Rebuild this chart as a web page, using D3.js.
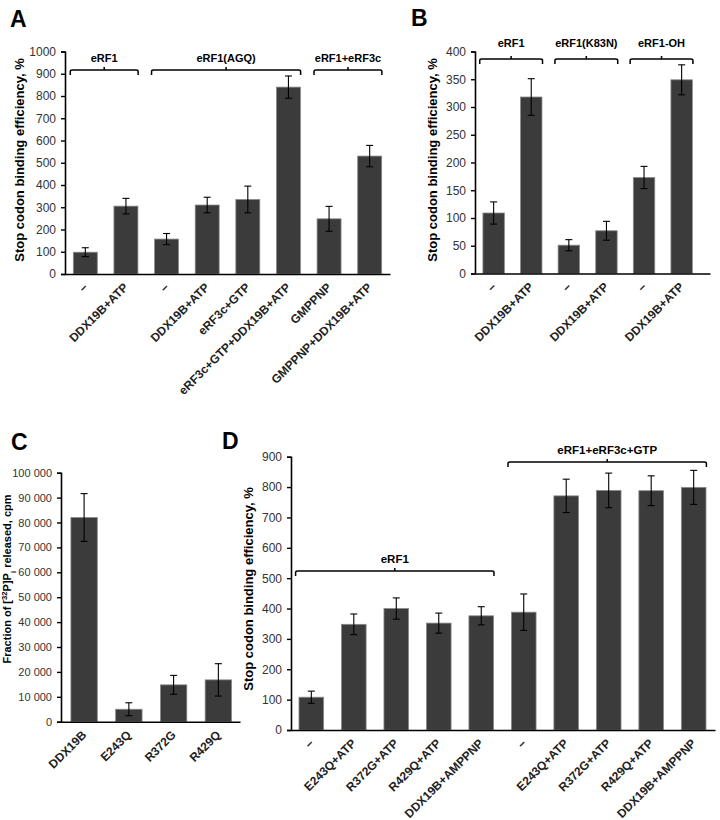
<!DOCTYPE html>
<html>
<head>
<meta charset="utf-8">
<script src="https://cdn.jsdelivr.net/npm/d3@7"></script>
<style>
  body { margin: 0; background: #fff; }
  svg text { font-family: "Liberation Sans", Arial, sans-serif; }
</style>
</head>
<body>
<script>
// ---- panel A
const catsA = ["–", "DDX19B+ATP", "–", "DDX19B+ATP", "eRF3c+GTP", "eRF3c+GTP+DDX19B+ATP", "GMPPNP", "GMPPNP+DDX19B+ATP"];
const valsA = [98, 305, 157, 310, 335, 840, 248, 530];
const errsA = [20, 35, 25, 35, 60, 50, 56, 48];
const groupsA = [["eRF1", 0, 1], ["eRF1(AGQ)", 2, 5], ["eRF1+eRF3c", 6, 7]];

// ---- panel B
const catsB = ["–", "DDX19B+ATP", "–", "DDX19B+ATP", "–", "DDX19B+ATP"];
const valsB = [109, 318, 51, 77, 173, 349];
const errsB = [20, 33, 10, 17, 20, 27];
const groupsB = [["eRF1", 0, 1], ["eRF1(K83N)", 2, 3], ["eRF1-OH", 4, 5]];

// ---- panel C
const catsC = ["DDX19B", "E243Q", "R372G", "R429Q"];
const valsC = [82000, 5000, 14800, 16800];
const errsC = [9600, 2600, 3800, 6500];

// ---- panel D
const catsD = ["–", "E243Q+ATP", "R372G+ATP", "R429Q+ATP", "DDX19B+AMPPNP",
               "–", "E243Q+ATP", "R372G+ATP", "R429Q+ATP", "DDX19B+AMPPNP"];
const valsD = [108, 348, 400, 352, 376, 388, 771, 789, 788, 799];
const errsD = [20, 34, 35, 33, 30, 60, 55, 57, 49, 56];
const groupsD = [["eRF1", 0, 4], ["eRF1+eRF3c+GTP", 5, 9]];

const yTitle = "Stop codon binding efficiency, %";
const spaceFmt = d3.formatLocale({decimal: ".", thousands: " ", grouping: [3], currency: ["", ""]}).format(",");

const svg = d3.select("body").append("svg")
    .attr("width", 720)
    .attr("height", 820);

function drawPanel(p) {
    const g = svg.append("g");

    const x = d3.scaleBand()
        .domain(d3.range(p.cats.length))
        .range([p.x0, p.x1])
        .paddingInner(p.padIn)
        .paddingOuter(p.padOut)
        .align(p.align);
    const y = d3.scaleLinear().domain([0, p.yMax]).range([p.y0, p.y1]);
    const bw = x.bandwidth();
    const cx = i => x(i) + bw / 2;

    // bars
    g.selectAll(".bar").data(p.vals).enter().append("rect")
        .attr("class", "bar")
        .attr("x", (d, i) => x(i))
        .attr("y", d => y(d))
        .attr("width", bw)
        .attr("height", d => y(0) - y(d))
        .attr("fill", "#3b3b3b")
        .attr("stroke", "#8a8a8a")
        .attr("stroke-width", 0.8);

    // error bars
    const eb = g.selectAll(".err").data(p.vals).enter().append("g").attr("class", "err")
        .attr("stroke", "#000").attr("stroke-width", 1.1);
    eb.append("line")
        .attr("x1", (d, i) => cx(i)).attr("x2", (d, i) => cx(i))
        .attr("y1", (d, i) => y(d + p.errs[i])).attr("y2", (d, i) => y(d - p.errs[i]));
    [1, -1].forEach(s => {
        eb.append("line")
            .attr("x1", (d, i) => cx(i) - 3.5).attr("x2", (d, i) => cx(i) + 3.5)
            .attr("y1", (d, i) => y(d + s * p.errs[i])).attr("y2", (d, i) => y(d + s * p.errs[i]));
    });

    // y axis
    const yAxis = d3.axisLeft(y)
        .tickValues(d3.range(0, p.yMax + 1, p.yStep))
        .tickSize(4).tickSizeOuter(4).tickPadding(5)
        .tickFormat(p.fmt);
    const ya = g.append("g").attr("transform", `translate(${p.x0},0)`).call(yAxis);
    ya.select(".domain").attr("stroke-width", 1.6);
    ya.selectAll(".tick line").attr("stroke-width", 1.4);
    ya.selectAll(".tick text")
        .attr("font-family", "Liberation Sans, Arial, sans-serif")
        .attr("font-size", p.tickFont).attr("fill", "#333");

    // x axis
    const xa = g.append("g").attr("transform", `translate(0,${p.y0})`)
        .call(d3.axisBottom(x).tickSize(0).tickSizeOuter(0).tickFormat(""));
    xa.select(".domain").attr("stroke-width", 1.6);

    // rotated category labels
    g.selectAll(".xlab").data(p.cats).enter().append("text")
        .attr("class", "xlab")
        .attr("transform", (d, i) => `translate(${cx(i) + 3},${p.y0 + 14}) rotate(-45)`)
        .attr("text-anchor", "end")
        .attr("font-size", 12)
        .attr("font-weight", "bold")
        .attr("fill", "#222")
        .text(d => d);

    // group brackets
    (p.groups || []).forEach((gr, k) => {
        const by = p.bracketY[k];
        const xs = cx(gr[1]) - 0.37 * x.step();
        const xe = cx(gr[2]) + 0.3 * x.step();
        const xm = (xs + xe) / 2;
        g.append("path")
            .attr("d", `M${xs},${by + 5} L${xs},${by + 1.5} Q${xs},${by} ${xs + 2},${by} L${xe - 2},${by} Q${xe},${by} ${xe},${by + 1.5} L${xe},${by + 5} M${xm},${by} L${xm},${by - 3}`)
            .attr("fill", "none").attr("stroke", "#000").attr("stroke-width", 1.5);
        g.append("text")
            .attr("x", xm).attr("y", by - p.labelGap)
            .attr("text-anchor", "middle")
            .attr("font-size", p.groupFont)
            .attr("font-weight", "bold")
            .text(gr[0]);
    });

    // y title
    const yt = g.append("text")
        .attr("transform", `translate(${p.ylabX},${p.ylabY}) rotate(-90)`)
        .attr("text-anchor", "middle")
        .attr("dy", "0.35em")
        .attr("font-size", p.ylabFont)
        .attr("font-weight", "bold");
    p.ylab(yt);

    // panel letter
    g.append("text")
        .attr("x", p.letterX).attr("y", p.letterY)
        .attr("font-size", 23).attr("font-weight", "bold")
        .text(p.letter);
}

drawPanel({
    cats: catsA, vals: valsA, errs: errsA, groups: groupsA,
    x0: 65, x1: 390, y0: 274, y1: 51.5, yMax: 1000, yStep: 100,
    padIn: 0.41, padOut: 0.205, align: 0.5,
    fmt: d3.format("d"), tickFont: 12,
    bracketY: [70, 70, 70], labelGap: 8, groupFont: 11,
    ylabX: 19, ylabY: 160, ylabFont: 13, ylab: t => t.text(yTitle),
    letter: "A", letterX: 10, letterY: 27
});

drawPanel({
    cats: catsB, vals: valsB, errs: errsB, groups: groupsB,
    x0: 475, x1: 710, y0: 273.5, y1: 51.5, yMax: 400, yStep: 50,
    padIn: 0.43, padOut: 0.34, align: 0.31,
    fmt: d3.format("d"), tickFont: 12,
    bracketY: [59, 59, 59], labelGap: 12, groupFont: 11,
    ylabX: 432, ylabY: 160, ylabFont: 13, ylab: t => t.text(yTitle),
    letter: "B", letterX: 411, letterY: 26
});

drawPanel({
    cats: catsC, vals: valsC, errs: errsC,
    x0: 61, x1: 240, y0: 721.7, y1: 472.7, yMax: 100000, yStep: 10000,
    padIn: 0.41, padOut: 0.205, align: 0.54,
    fmt: spaceFmt, tickFont: 11,
    ylabX: 7, ylabY: 579, ylabFont: 11,
    ylab: t => {
        t.append("tspan").text("Fraction of [");
        t.append("tspan").attr("baseline-shift", "super").attr("font-size", "70%").text("32");
        t.append("tspan").text("P]P");
        t.append("tspan").attr("baseline-shift", "sub").attr("font-size", "70%").text("i");
        t.append("tspan").text(" released, cpm");
    },
    letter: "C", letterX: 11, letterY: 450
});

drawPanel({
    cats: catsD, vals: valsD, errs: errsD, groups: groupsD,
    x0: 291, x1: 715, y0: 730, y1: 456.7, yMax: 900, yStep: 100,
    padIn: 0.42, padOut: 0.2, align: 0.47,
    fmt: d3.format("d"), tickFont: 12,
    bracketY: [571, 462], labelGap: 8, groupFont: 11.5,
    ylabX: 248, ylabY: 589, ylabFont: 13, ylab: t => t.text(yTitle),
    letter: "D", letterX: 222, letterY: 449
});
</script>
</body>
</html>
